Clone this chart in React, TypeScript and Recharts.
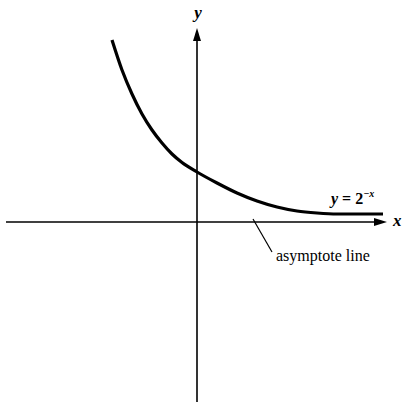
import { ComposedChart, Line, XAxis, YAxis, ReferenceLine, ReferenceDot } from 'recharts'

// points (1 unit ≈ 50px)
const xs = [-1.7, -1.5, -1.3, -1.1, -0.9, -0.7, -0.5, -0.3, 0, 0.4, 0.8, 1.2, 1.6, 2.0, 2.4, 2.8, 3.72]
const ys = [3.64, 3.04, 2.56, 2.16, 1.84, 1.58, 1.36, 1.19, 1.0, 0.78, 0.58, 0.42, 0.3, 0.22, 0.18, 0.16, 0.16]

const data = xs.map((x, i) => ({ x, y: ys[i] }))

const serif = '"Liberation Serif", "Times New Roman", serif'

function Arrow(p: any) {
  const { x1, y1, x2, y2 } = p
  const dx = x2 - x1
  const dy = y2 - y1
  const len = Math.hypot(dx, dy) || 1
  const ux = dx / len
  const uy = dy / len
  const hl = 13
  const hw = 4
  const bx = x2 - ux * hl
  const by = y2 - uy * hl
  return (
    <g>
      <line x1={x1} y1={y1} x2={bx} y2={by} stroke="#000" strokeWidth={1.6}/>
      <path d={`M${x2},${y2} L${bx - uy * hw},${by + ux * hw} L${bx + uy * hw},${by - ux * hw} Z`} fill="#000"/>
    </g>
  )
}

const textAt = (content: any, anchor: string, style: any) => (p: any) => (
  <text x={p.cx} y={p.cy} textAnchor={anchor} fontFamily={serif} fill="#000" {...style}>{content}</text>
)

export default function App() {
  return (
    <div style={{ position: 'absolute', left: 0, top: 0, background: '#fff' }}>
      <ComposedChart width={402} height={407} data={data} margin={{ top: 0, right: 0, bottom: 0, left: 0 }}>
        <XAxis dataKey="x" type="number" domain={[-3.94, 4.1]} hide allowDataOverflow/>
        <YAxis type="number" domain={[-3.7, 4.44]} hide allowDataOverflow/>
        <ReferenceLine segment={[{ x: -3.82, y: 0 }, { x: 3.8, y: 0 }]} shape={Arrow} ifOverflow="visible"/>
        <ReferenceLine segment={[{ x: 0, y: -3.6 }, { x: 0, y: 3.88 }]} shape={Arrow} ifOverflow="visible"/>
        <ReferenceLine segment={[{ x: 1.12, y: 0.06 }, { x: 1.5, y: -0.6 }]} stroke="#000" strokeWidth={1.2} ifOverflow="visible"/>
        <Line dataKey="y" type="monotone" stroke="#000" strokeWidth={3.2} dot={false} activeDot={false}
          strokeLinecap="butt" isAnimationActive={false}/>
        <ReferenceDot x={0.02} y={4.08} r={0} ifOverflow="visible"
          shape={textAt('y', 'middle', { fontSize: 17, fontWeight: 'bold', fontStyle: 'italic' })}/>
        <ReferenceDot x={3.92} y={-0.08} r={0} ifOverflow="visible"
          shape={textAt('x', 'start', { fontSize: 17, fontWeight: 'bold', fontStyle: 'italic' })}/>
        <ReferenceDot x={2.68} y={0.36} r={0} ifOverflow="visible"
          shape={textAt(
            <>
              <tspan fontStyle="italic">y</tspan>
              <tspan> = 2</tspan>
              <tspan fontSize={10} dy={-7} fontStyle="italic">−x</tspan>
            </>,
            'start', { fontSize: 16, fontWeight: 'bold' })}/>
        <ReferenceDot x={1.58} y={-0.78} r={0} ifOverflow="visible"
          shape={textAt('asymptote line', 'start', { fontSize: 16 })}/>
      </ComposedChart>
    </div>
  )
}
